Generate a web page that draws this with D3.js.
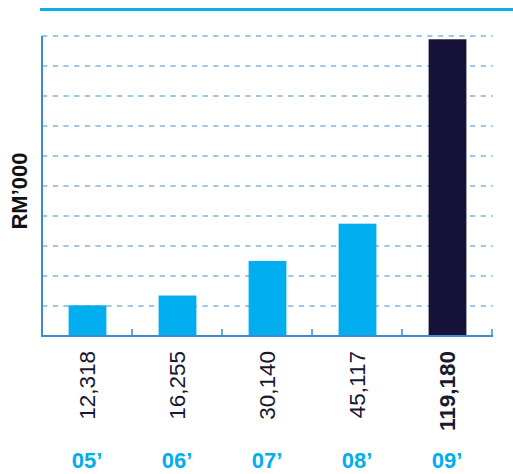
<!DOCTYPE html>
<html>
<head>
<meta charset="utf-8">
<script src="https://cdn.jsdelivr.net/npm/d3@7"></script>
<style>
  body { margin: 0; background: #fff; }
  svg { display: block; font-family: "Liberation Sans", Arial, sans-serif; }
</style>
</head>
<body>
<div id="chart"></div>
<script>
// data
const years = ["05’", "06’", "07’", "08’", "09’"];
const values = [12318, 16255, 30140, 45117, 119180];
const valueLabels = ["12,318", "16,255", "30,140", "45,117", "119,180"];
const yMax = 120500;
const gridCount = 10;

const width = 513, height = 474;
const margin = { left: 42, right: 21, top: 36, plotBottom: 336 };

const svg = d3.select("#chart").append("svg")
  .attr("width", width)
  .attr("height", height);

// scales
const x = d3.scaleBand()
  .domain(years)
  .range([margin.left, width - margin.right])
  .padding(0);

const y = d3.scaleLinear()
  .domain([0, yMax])
  .range([margin.plotBottom, margin.top]);

const barW = x.bandwidth() * 0.42;

// top rule
svg.append("line")
  .attr("x1", 40).attr("x2", width)
  .attr("y1", 9.5).attr("y2", 9.5)
  .attr("stroke", "#0aaee8")
  .attr("stroke-width", 3);

// dashed gridlines
const gridVals = d3.range(1, gridCount + 1).map(i => yMax * i / gridCount);
svg.append("g")
  .selectAll("line")
  .data(gridVals)
  .join("line")
  .attr("x1", margin.left)
  .attr("x2", width - margin.right + 1)
  .attr("y1", d => y(d))
  .attr("y2", d => y(d))
  .attr("stroke", "#7cb6de")
  .attr("stroke-width", 1.7)
  .attr("stroke-dasharray", "5.3,5.4");

// bars
svg.append("g")
  .selectAll("rect")
  .data(values)
  .join("rect")
  .attr("x", (d, i) => x(years[i]) + (x.bandwidth() - barW) / 2 + 0.5)
  .attr("y", d => y(d))
  .attr("width", barW)
  .attr("height", d => y(0) - y(d))
  .attr("fill", (d, i) => i === values.length - 1 ? "#16123a" : "#00aeef");

// axes
const axisColor = "#3a8ccc";
svg.append("line")
  .attr("x1", margin.left).attr("x2", margin.left)
  .attr("y1", margin.top).attr("y2", y(0) + 1)
  .attr("stroke", axisColor).attr("stroke-width", 2);

svg.append("line")
  .attr("x1", margin.left - 1).attr("x2", width - margin.right + 1)
  .attr("y1", y(0)).attr("y2", y(0))
  .attr("stroke", axisColor).attr("stroke-width", 2);

// small ticks on band edges
const edges = years.map(d => x(d) + x.bandwidth());
svg.append("g")
  .selectAll("line")
  .data(edges)
  .join("line")
  .attr("x1", d => d).attr("x2", d => d)
  .attr("y1", y(0)).attr("y2", y(0) - 7)
  .attr("stroke", axisColor).attr("stroke-width", 1.5);

// value labels (rotated)
svg.append("g")
  .selectAll("text")
  .data(valueLabels)
  .join("text")
  .attr("transform", (d, i) => `translate(${x(years[i]) + x.bandwidth() / 2},351) rotate(-90)`)
  .attr("dy", "0.36em")
  .attr("text-anchor", "end")
  .attr("font-size", 22.5)
  .attr("font-weight", (d, i) => i === valueLabels.length - 1 ? "bold" : "normal")
  .attr("fill", "#1a1830")
  .text(d => d);

// year labels
svg.append("g")
  .selectAll("text")
  .data(years)
  .join("text")
  .attr("x", d => x(d) + x.bandwidth() / 2)
  .attr("y", 468)
  .attr("text-anchor", "middle")
  .attr("font-size", 22)
  .attr("font-weight", "bold")
  .attr("fill", "#00aeef")
  .text(d => d);

// y title
svg.append("text")
  .attr("transform", "translate(19.5,191) rotate(-90)")
  .attr("dy", "0.36em")
  .attr("text-anchor", "middle")
  .attr("font-size", 22)
  .attr("font-weight", "bold")
  .attr("fill", "#111")
  .text("RM’000");
</script>
</body>
</html>
